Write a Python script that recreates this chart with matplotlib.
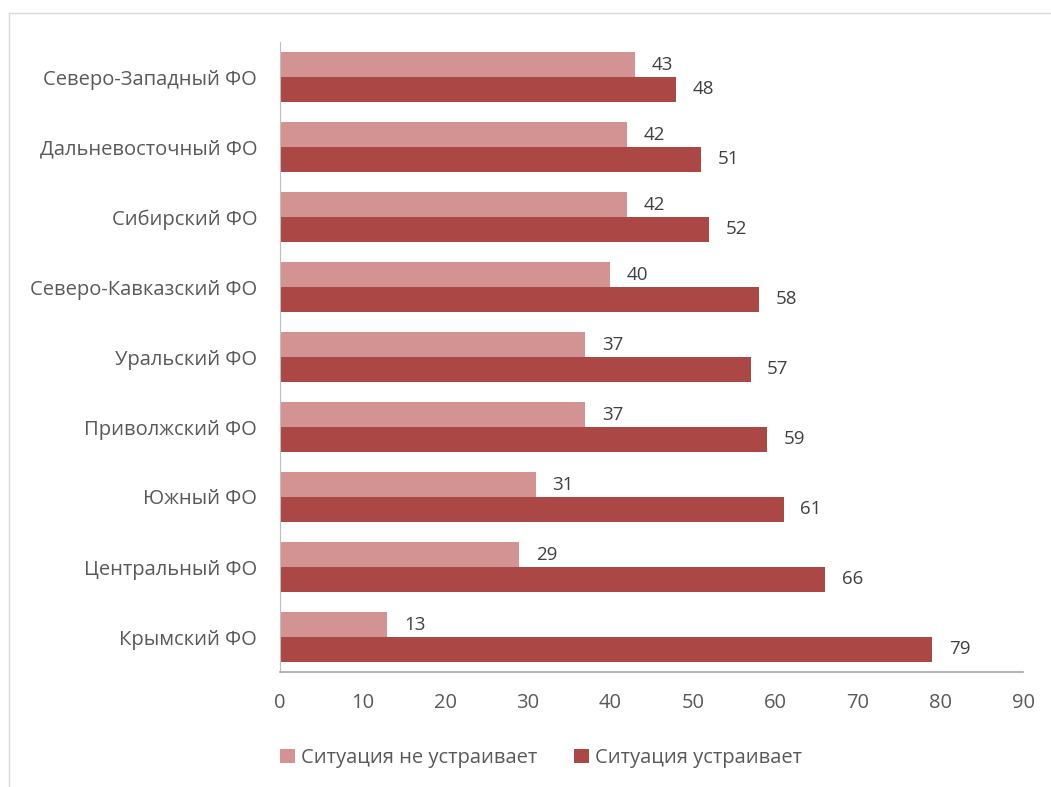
import numpy as np
import matplotlib.pyplot as plt
from matplotlib.lines import Line2D

categories = ['Крымский ФО', 'Центральный ФО', 'Южный ФО', 'Приволжский ФО',
              'Уральский ФО', 'Северо-Кавказский ФО', 'Сибирский ФО',
              'Дальневосточный ФО', 'Северо-Западный ФО']
not_ok = [13, 29, 31, 37, 37, 40, 42, 42, 43]
ok = [79, 66, 61, 59, 57, 58, 52, 51, 48]
series_names = ['Ситуация не устраивает', 'Ситуация устраивает']
xticks = [0, 10, 20, 30, 40, 50, 60, 70, 80, 90]

light = '#D39392'
dark = '#AB4744'
text_c = '#595959'

plt.rcParams['font.family'] = ['Open Sans', 'DejaVu Sans']

fig = plt.figure(figsize=(10.51, 7.87), dpi=100)
ax = fig.add_axes([280 / 1051, 115 / 787, 743 / 1051, 630 / 787])

y = np.arange(len(categories))
h = 0.357
b1 = ax.barh(y + h / 2, not_ok, height=h, color=light, label=series_names[0])
b2 = ax.barh(y - h / 2, ok, height=h, color=dark, label=series_names[1])

for bars, vals in ((b1, not_ok), (b2, ok)):
    for bar, v in zip(bars, vals):
        ax.annotate(str(v), (bar.get_width(), bar.get_y() + bar.get_height() / 2),
                    xytext=(12, 0), textcoords='offset points',
                    va='center', ha='left', fontsize=13.5, color='#404040')

ax.set_xlim(0, 90)
ax.set_ylim(-0.5, len(categories) - 0.5)
ax.set_xticks(xticks)
ax.set_yticks(y)
ax.set_yticklabels(categories)
ax.tick_params(axis='both', length=0, labelsize=14.5, colors=text_c)
ax.tick_params(axis='x', pad=15)
ax.tick_params(axis='y', pad=16.5)
for lab in ax.get_yticklabels():
    lab.set_va('center_baseline')
for s in ('top', 'right'):
    ax.spines[s].set_visible(False)
ax.spines['left'].set_color('#BFBFBF')
ax.spines['bottom'].set_color('#A6A6A6')
ax.spines['bottom'].set_linewidth(1.2)

leg = fig.legend(loc='center', bbox_to_anchor=(541 / 1051, 1 - 758 / 787), ncol=2,
                 frameon=False, fontsize=14.5, handlelength=0.75, handleheight=0.75,
                 handletextpad=0.3, columnspacing=1.8)
for t in leg.get_texts():
    t.set_color(text_c)

fig.add_artist(Line2D([9 / 1051, 9 / 1051], [0, 1 - 13 / 787],
                      transform=fig.transFigure, color='#D9D9D9', lw=1))
fig.add_artist(Line2D([9 / 1051, 1], [1 - 13 / 787, 1 - 13 / 787],
                      transform=fig.transFigure, color='#D9D9D9', lw=1))

fig.savefig('out.png', dpi=100)
